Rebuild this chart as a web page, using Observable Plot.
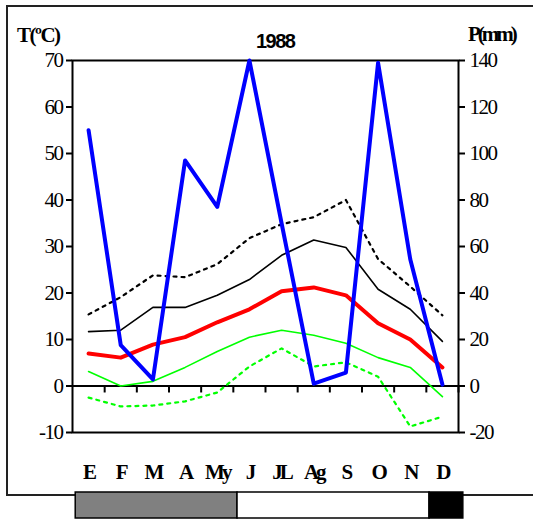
<!DOCTYPE html>
<html>
<head>
<meta charset="utf-8">
<script src="https://cdn.jsdelivr.net/npm/d3@7"></script>
<script src="https://cdn.jsdelivr.net/npm/@observablehq/plot@0.6"></script>
<style>
  html, body { margin: 0; padding: 0; background: #fff; overflow: hidden; }
  #wrap { position: relative; width: 533px; height: 519px; overflow: hidden; }
  #outer { position: absolute; left: 6px; top: 5px; width: 600px; height: 487px; border: 2px solid #222; }
  #main, #bar { position: absolute; left: 0; }
  #main { top: 0; }
  #bar { top: 491px; }
  .ttl { position: absolute; font-weight: bold; white-space: nowrap; color: #000; }
  #tlab { left: 17px; top: 25px; font: bold 21px/21px "Liberation Serif"; letter-spacing: -1.5px; }
  #year { left: 256px; top: 31px; font: bold 20px/20px "Liberation Sans"; letter-spacing: -1.5px; }
  #plab { left: 468px; top: 24px; font: bold 21px/21px "Liberation Serif"; letter-spacing: -3px; }
</style>
</head>
<body>
<div id="wrap">
  <div id="outer"></div>
  <div id="main"></div>
  <div id="bar"></div>
  <div class="ttl" id="tlab">T(ºC)</div>
  <div class="ttl" id="year">1988</div>
  <div class="ttl" id="plab">P(mm)</div>
</div>
<script>
// ---- data ----
const months = ["E","F","M","A","My","J","JL","Ag","S","O","N","D"];
const tAbsMax  = [15.4, 19.1, 23.8, 23.4, 26.2, 31.8, 34.8, 36.3, 40.0, 27.3, 21.4, 15.2];
const tMaxMean = [11.7, 12.0, 16.9, 16.9, 19.5, 22.9, 28.1, 31.4, 29.8, 20.8, 16.5, 9.6];
const tMean    = [7.0, 6.1, 8.9, 10.5, 13.7, 16.5, 20.4, 21.2, 19.5, 13.5, 10.0, 4.0];
const tMinMean = [3.1, 0.0, 1.0, 4.0, 7.4, 10.5, 12.0, 10.9, 9.2, 6.1, 4.0, -2.3];
const tAbsMin  = [-2.5, -4.4, -4.2, -3.3, -1.4, 4.2, 8.1, 4.2, 5.1, 2.0, -8.7, -6.6];
const precip   = [110, 17.6, 2.8, 97, 77, 140, 70, 1, 5.8, 139, 54.5, 0.6];
const tempTicks   = [-10, 0, 10, 20, 30, 40, 50, 60, 70];
const precipTicks = [-20, 0, 20, 40, 60, 80, 100, 120, 140];
const pRatio = 2; // mm per ºC on the twin axes
// season bar (in month units along the x axis)
const seasonStart = [0.1, 5.13, 11.1];
const seasonEnd   = [5.13, 11.1, 12.15];
const seasonFill  = ["#808080", "#ffffff", "#000000"];

const mx = (d, i) => i + 0.5;
const serif = "Liberation Serif";

const main = Plot.plot({
  width: 533, height: 519,
  marginTop: 60, marginBottom: 87, marginLeft: 72, marginRight: 75,
  style: { background: "transparent", color: "#000" },
  x: { domain: [0, 12], axis: null },
  y: { domain: [-10, 70], axis: null },
  marks: [
    Plot.frame({ stroke: "#000", strokeWidth: 2 }),
    Plot.ruleY([0], { stroke: "#000", strokeWidth: 2 }),
    Plot.ruleX(d3.range(1, 13), { y1: 0, y2: -1.5, stroke: "#000", strokeWidth: 2 }),
    Plot.axisY(tempTicks, { anchor: "left", tickSize: 6, tickPadding: 4, fontSize: 21, strokeWidth: 2, tickFormat: d => String(d), label: null }),
    Plot.axisY(precipTicks.map(p => p / pRatio), { anchor: "right", tickSize: 6, tickPadding: 5, fontSize: 21, strokeWidth: 2, tickFormat: d => String(d * pRatio), label: null }),
    Plot.axisX(months.map((m, i) => i + 0.5), { anchor: "bottom", tickSize: 0, tickPadding: 32, fontSize: 21, fontWeight: "bold", tickFormat: d => months[Math.floor(d)], label: null }),
    Plot.line(tAbsMin,  { x: mx, y: d => d, stroke: "#00ff00", strokeWidth: 2.2, strokeDasharray: "3,5" }),
    Plot.line(tMinMean, { x: mx, y: d => d, stroke: "#00ff00", strokeWidth: 1.6 }),
    Plot.line(tAbsMax,  { x: mx, y: d => d, stroke: "#000", strokeWidth: 2.2, strokeDasharray: "3,5" }),
    Plot.line(tMaxMean, { x: mx, y: d => d, stroke: "#000", strokeWidth: 1.6 }),
    Plot.line(tMean,    { x: mx, y: d => d, stroke: "#ff0000", strokeWidth: 4 }),
    Plot.line(precip,   { x: mx, y: d => d / pRatio, stroke: "#0000ff", strokeWidth: 4 })
  ]
});
const svgMain = d3.select(main);
svgMain.selectAll("text").style("font-family", "'Liberation Serif', serif");
svgMain.selectAll('g[aria-label="y-axis tick label"] text').style("letter-spacing", "-1.5px");
svgMain.selectAll('g[aria-label="x-axis tick label"] text').style("letter-spacing", "-3px");
document.getElementById("main").appendChild(main);

const seasons = seasonStart.map((s, i) => ({ start: s, end: seasonEnd[i], fill: seasonFill[i] }));
const bar = Plot.plot({
  width: 533, height: 28,
  marginTop: 1, marginBottom: 1, marginLeft: 72, marginRight: 75,
  style: { background: "transparent" },
  x: { domain: [0, 12], axis: null },
  y: { domain: [0, 1], axis: null },
  color: { type: "identity" },
  marks: [
    Plot.rect(seasons, { x1: "start", x2: "end", y1: 0, y2: 1, fill: "fill", stroke: "#000", strokeWidth: 1.5 })
  ]
});
document.getElementById("bar").appendChild(bar);
</script>
</body>
</html>
